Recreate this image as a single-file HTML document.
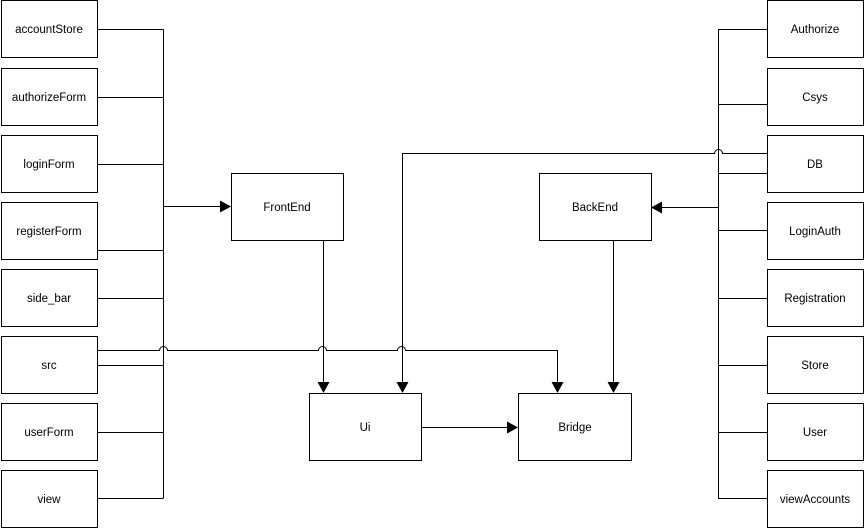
<!DOCTYPE html>
<html><head><meta charset="utf-8"><style>
html,body{margin:0;padding:0;background:#fff;width:865px;height:529px;overflow:hidden}
text{font-family:"Liberation Sans",sans-serif;font-size:11.5px;fill:#000}
</style></head><body>
<svg width="865" height="529" viewBox="0 0 865 529" xmlns="http://www.w3.org/2000/svg">
<g fill="#fff" stroke="#000" stroke-width="1">
<rect x="1.5" y="0.5" width="96" height="57"/>
<rect x="1.5" y="68.5" width="96" height="57"/>
<rect x="1.5" y="135.5" width="96" height="57"/>
<rect x="1.5" y="202.5" width="96" height="57"/>
<rect x="1.5" y="269.5" width="96" height="57"/>
<rect x="1.5" y="336.5" width="96" height="57"/>
<rect x="1.5" y="403.5" width="96" height="57"/>
<rect x="1.5" y="470.5" width="96" height="57"/>
<rect x="767.5" y="0.5" width="96" height="57"/>
<rect x="767.5" y="68.5" width="96" height="57"/>
<rect x="767.5" y="135.5" width="96" height="57"/>
<rect x="767.5" y="202.5" width="96" height="57"/>
<rect x="767.5" y="269.5" width="96" height="57"/>
<rect x="767.5" y="336.5" width="96" height="57"/>
<rect x="767.5" y="403.5" width="96" height="57"/>
<rect x="767.5" y="470.5" width="96" height="57"/>
<rect x="231.5" y="173.5" width="112" height="67"/>
<rect x="539.5" y="173.5" width="112" height="67"/>
<rect x="309.5" y="393.5" width="112" height="67"/>
<rect x="518.5" y="393.5" width="113" height="67"/>
</g>
<g fill="none" stroke="#000" stroke-width="1">
<path d="M163.5 29.5V498.5"/>
<path d="M97 29.5H163.5M97 97.5H163M97 164.5H163M97 250.5H163M97 298.5H163M97 365.5H163M97 432.5H163M97 498.5H163"/>
<path d="M163 206.5H222"/>
<path d="M97 350.5H159.5a4 4 0 0 1 8 0H318.5a4 4 0 0 1 8 0H397.5a4 4 0 0 1 8 0H557.5V384"/>
<path d="M323.5 240V384"/>
<path d="M718.5 29.5V498.5"/>
<path d="M718 29.5H767M718 104.5H767M718 173.5H767M718 230.5H767M718 298.5H767M718 365.5H767M718 432.5H767M718 498.5H767"/>
<path d="M767 153.5H722.5a4 4 0 0 0 -8 0H402.5V384"/>
<path d="M718 207.5H662"/>
<path d="M613.5 240V384"/>
<path d="M421 427.5H509"/>
</g>
<g fill="#000">
<path d="M231 206.5l-11 -6v12z"/>
<path d="M651 207.5l11 -6v12z"/>
<path d="M323.5 393l-6 -11h12z"/>
<path d="M402.5 393l-6 -11h12z"/>
<path d="M557.5 393l-6 -11h12z"/>
<path d="M613.5 393l-6 -11h12z"/>
<path d="M518 427.5l-11 -6v12z"/>
</g>
<g text-anchor="middle">
<text x="49" y="33">accountStore</text>
<text x="49" y="101">authorizeForm</text>
<text x="49" y="168">loginForm</text>
<text x="49" y="235">registerForm</text>
<text x="49" y="302">side_bar</text>
<text x="49" y="369">src</text>
<text x="49" y="436">userForm</text>
<text x="49" y="503">view</text>
<text x="815" y="33">Authorize</text>
<text x="815" y="101">Csys</text>
<text x="815" y="168">DB</text>
<text x="815" y="235">LoginAuth</text>
<text x="815" y="302">Registration</text>
<text x="815" y="369">Store</text>
<text x="815" y="436">User</text>
<text x="815" y="503">viewAccounts</text>
<text x="287" y="211">FrontEnd</text>
<text x="595" y="211">BackEnd</text>
<text x="365" y="431">Ui</text>
<text x="575" y="431">Bridge</text>
</g>
</svg>
</body></html>
